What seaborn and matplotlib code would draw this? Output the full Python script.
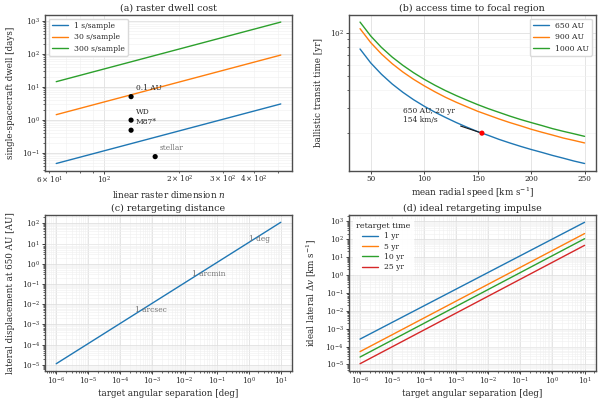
import numpy as np
import pandas as pd
import matplotlib
matplotlib.use("Agg")
import matplotlib.pyplot as plt
import seaborn as sns

# ---------------- data ----------------
# (a) raster dwell cost
raster_n = [64, 512]
dwell_1s = [0.047, 3.0]
dwell_30s = [1.42, 91.0]
dwell_300s = [14.2, 910.0]
dwell_labels = ["1 s/sample", "30 s/sample", "300 s/sample"]
target_names = ["0.1 AU", "WD", "M87*", "stellar"]
target_n = [128, 128, 128, 160]
target_dwell = [5.0, 0.97, 0.48, 0.076]

# (b) access time
speed = [40, 50, 60, 70, 80, 90, 100, 110, 120, 130, 140, 150, 160, 170, 180,
         190, 200, 210, 220, 230, 240, 250]
t_650 = [77.0, 61.6, 51.4, 44.0, 38.5, 34.2, 30.8, 28.0, 25.7, 23.7, 22.0, 20.5,
         19.3, 18.1, 17.1, 16.2, 15.4, 14.7, 14.0, 13.4, 12.8, 12.3]
t_900 = [106.6, 85.3, 71.1, 60.9, 53.3, 47.4, 42.7, 38.8, 35.5, 32.8, 30.5, 28.4,
         26.7, 25.1, 23.7, 22.5, 21.3, 20.3, 19.4, 18.5, 17.8, 17.1]
t_1000 = [118.5, 94.8, 79.0, 67.7, 59.3, 52.7, 47.4, 43.1, 39.5, 36.5, 33.9, 31.6,
          29.6, 27.9, 26.3, 24.9, 23.7, 22.6, 21.5, 20.6, 19.8, 19.0]
dist_labels = ["650 AU", "900 AU", "1000 AU"]
mark_speed = [154]
mark_time = [20.0]

# (c) retargeting distance
sep_deg = [1e-6, 10.0]
lateral_au = [1.13e-5, 113.0]
ref_names = ["1 arcsec", "1 arcmin", "1 deg"]
ref_deg = [1 / 3600, 1 / 60, 1.0]
ref_au = [3.15e-3, 0.189, 11.3]

# (d) ideal retargeting impulse
dv_1yr = [2.6e-4, 850.0]
dv_5yr = [5.2e-5, 200.0]
dv_10yr = [2.6e-5, 103.0]
dv_25yr = [1.1e-5, 44.0]
time_labels = ["1 yr", "5 yr", "10 yr", "25 yr"]

# ---------------- style ----------------
sns.set_theme(style="ticks", palette="tab10")
plt.rcParams.update({
    "font.family": ["DejaVu Serif"],
    "mathtext.fontset": "dejavuserif",
    "axes.edgecolor": "0.3",
    "axes.linewidth": 1.0,
    "axes.titlesize": 6.8,
    "axes.labelsize": 6.3,
    "xtick.labelsize": 5.2,
    "ytick.labelsize": 5.2,
    "xtick.major.size": 2.0,
    "ytick.major.size": 2.0,
    "xtick.minor.size": 1.2,
    "ytick.minor.size": 1.2,
    "xtick.major.width": 0.6,
    "ytick.major.width": 0.6,
    "xtick.minor.width": 0.5,
    "ytick.minor.width": 0.5,
    "xtick.major.pad": 1.2,
    "ytick.major.pad": 1.5,
    "xtick.minor.pad": 1.2,
    "ytick.minor.pad": 1.5,
    "axes.labelpad": 2,
    "axes.titlepad": 3,
    "legend.fontsize": 5.5,
})
pal = sns.color_palette("tab10")

fig, axes = plt.subplots(2, 2, figsize=(6, 4), dpi=100)
fig.subplots_adjust(left=0.075, right=0.993, top=0.9625, bottom=0.073,
                    wspace=0.23, hspace=0.287)


def grid(ax):
    ax.grid(True, which="major", color="0.88", lw=0.6)
    ax.grid(True, which="minor", color="0.94", lw=0.4)
    ax.set_axisbelow(True)


YPAD = 5.0

# (a)
ax = axes[0, 0]
for vals, lab, c in zip([dwell_1s, dwell_30s, dwell_300s], dwell_labels, pal):
    sns.lineplot(x=raster_n, y=vals, ax=ax, color=c, lw=1.0, label=lab)
ax.set_xscale("log")
ax.set_yscale("log")
sns.scatterplot(x=target_n, y=target_dwell, ax=ax, color="black", s=14,
                edgecolor="none", zorder=5, legend=False)
for name, xn, yd in zip(target_names, target_n, target_dwell):
    ax.annotate(name, (xn, yd), xytext=(3.5, 3.0), textcoords="offset points",
                ha="left", va="bottom", fontsize=5.4,
                color="0.45" if name == "stellar" else "0.15")
ax.set_title("(a) raster dwell cost")
ax.set_xlabel("linear raster dimension $n$")
ax.set_ylabel("single-spacecraft dwell [days]", labelpad=YPAD)
ax.legend(loc="upper left", frameon=True, edgecolor="0.85", framealpha=1,
          handlelength=2.1, labelspacing=0.45, borderaxespad=0.5)
grid(ax)

# (b)
ax = axes[0, 1]
for vals, lab, c in zip([t_650, t_900, t_1000], dist_labels, pal):
    sns.lineplot(x=speed, y=vals, ax=ax, color=c, lw=1.0, label=lab)
ax.set_yscale("log")
sns.scatterplot(x=mark_speed, y=mark_time, ax=ax, color="red", s=14,
                edgecolor="none", zorder=5, legend=False)
ax.annotate("650 AU, 20 yr\n154 km/s", (mark_speed[0], mark_time[0]),
            xytext=(80, 30.5), textcoords="data", ha="left", va="top",
            fontsize=5.4, color="0.15",
            arrowprops=dict(arrowstyle="-", color="0.1", lw=0.8))
ax.set_title("(b) access time to focal region")
ax.set_xlabel("mean radial speed [km s$^{-1}$]")
ax.set_ylabel("ballistic transit time [yr]", labelpad=YPAD)
ax.legend(loc="upper right", frameon=True, edgecolor="0.85", framealpha=1,
          handlelength=2.1, labelspacing=0.45)
grid(ax)

# (c)
ax = axes[1, 0]
sns.lineplot(x=sep_deg, y=lateral_au, ax=ax, color=pal[0], lw=1.0)
ax.set_xscale("log")
ax.set_yscale("log")
for name, xd, yd in zip(ref_names, ref_deg, ref_au):
    ax.text(xd, yd, name, ha="left", va="bottom", fontsize=5.4, color="0.45")
ax.set_title("(c) retargeting distance")
ax.set_xlabel("target angular separation [deg]")
ax.set_ylabel("lateral displacement at 650 AU [AU]", labelpad=YPAD)
grid(ax)

# (d)
ax = axes[1, 1]
for vals, lab, c in zip([dv_1yr, dv_5yr, dv_10yr, dv_25yr], time_labels, pal):
    sns.lineplot(x=sep_deg, y=vals, ax=ax, color=c, lw=1.0, label=lab)
ax.set_xscale("log")
ax.set_yscale("log")
ax.set_title("(d) ideal retargeting impulse")
ax.set_xlabel("target angular separation [deg]")
ax.set_ylabel("ideal lateral $\\Delta v$ [km s$^{-1}$]", labelpad=YPAD)
leg = ax.legend(loc="upper left", title="retarget time", frameon=True,
                edgecolor="white", framealpha=0.9, handlelength=2.1,
                labelspacing=0.3, title_fontsize=5.8)
grid(ax)

fig.savefig("out.png", dpi=100)
